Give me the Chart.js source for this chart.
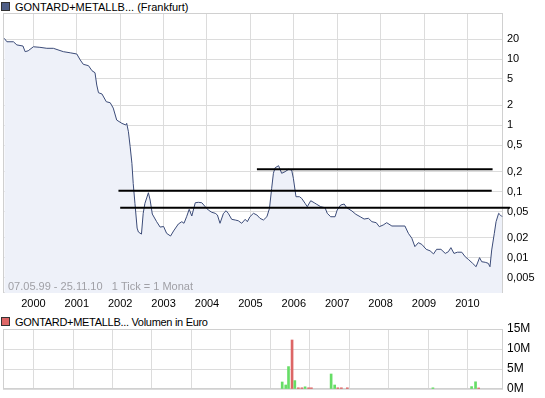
<!DOCTYPE html>
<html>
<head>
<meta charset="utf-8">
<script src="https://cdn.jsdelivr.net/npm/chart.js@4/dist/chart.umd.min.js"></script>
<style>
  body { margin: 0; background: #fff; font-family: "Liberation Sans", Arial, sans-serif; }
  #wrap { position: relative; width: 545px; height: 398px; overflow: hidden; }
  .box { position: absolute; width: 7px; height: 7px; border: 1px solid #333; }
  .label { position: absolute; left: 15px; font-size: 11px; line-height: 12px; color: #000; white-space: nowrap; }
  canvas { position: absolute; left: 0; }
</style>
</head>
<body>
<div id="wrap">
  <div class="box" style="left:1px;top:2px;background:#4f5f87;"></div>
  <div class="label" style="top:1px;">GONTARD+METALLB... (Frankfurt)</div>
  <canvas id="priceChart" width="545" height="312" style="top:0;"></canvas>
  <div class="box" style="left:1px;top:317px;background:#dd6666;"></div>
  <div class="label" style="top:316px;letter-spacing:-0.3px;">GONTARD+METALLB... Volumen in Euro</div>
  <canvas id="volumeChart" width="545" height="86" style="top:312px;"></canvas>
</div>
<script>
// PRICE DATA (decimal year, price in EUR, log scale)
const priceDates = [
  1999.33, 1999.39, 1999.54, 1999.62, 1999.76, 1999.81, 1999.88, 2000.00, 2000.15, 2000.31,
  2000.46, 2000.69, 2000.85, 2001.00, 2001.08, 2001.15, 2001.27, 2001.35, 2001.42, 2001.46,
  2001.50, 2001.58, 2001.68, 2001.77, 2001.84, 2001.92, 2002.04, 2002.13, 2002.15, 2002.19,
  2002.23, 2002.27, 2002.30, 2002.34, 2002.39, 2002.42, 2002.49, 2002.53, 2002.57, 2002.65,
  2002.69, 2002.74, 2002.84, 2002.92, 2003.00, 2003.07, 2003.16, 2003.23, 2003.34, 2003.42,
  2003.47, 2003.53, 2003.59, 2003.65, 2003.73, 2003.80, 2003.88, 2003.96, 2004.03, 2004.11,
  2004.19, 2004.24, 2004.30, 2004.38, 2004.44, 2004.49, 2004.57, 2004.65, 2004.72, 2004.80,
  2004.88, 2004.93, 2004.99, 2005.07, 2005.15, 2005.22, 2005.30, 2005.38, 2005.44, 2005.49,
  2005.53, 2005.57, 2005.65, 2005.72, 2005.80, 2005.88, 2005.95, 2005.99, 2006.05, 2006.13,
  2006.18, 2006.26, 2006.31, 2006.39, 2006.47, 2006.53, 2006.62, 2006.72, 2006.77, 2006.85,
  2006.95, 2007.00, 2007.08, 2007.16, 2007.22, 2007.34, 2007.43, 2007.53, 2007.62, 2007.72,
  2007.80, 2007.90, 2007.97, 2008.06, 2008.14, 2008.26, 2008.56, 2008.64, 2008.72, 2008.79,
  2008.87, 2008.95, 2009.05, 2009.14, 2009.22, 2009.29, 2009.39, 2009.49, 2009.56, 2009.62,
  2009.69, 2009.77, 2009.87, 2009.95, 2010.02, 2010.12, 2010.20, 2010.28, 2010.33, 2010.41,
  2010.48, 2010.52, 2010.56, 2010.62, 2010.66, 2010.72, 2010.76, 2010.80
];
const prices = [
  20.5, 18.2, 18.2, 16.3, 15.7, 12.9, 13.3, 15.3, 15.0, 14.5,
  14.5, 12.9, 12.4, 11.9, 9.66, 8.32, 7.93, 6.66, 6.21, 4.05,
  3.10, 2.97, 2.27, 2.19, 1.82, 1.20, 1.07, 1.01, 1.07, 0.80,
  0.475, 0.267, 0.133, 0.0666, 0.0282, 0.0246, 0.0229, 0.0471, 0.0666, 0.0962,
  0.0747, 0.0459, 0.0352, 0.0292, 0.0298, 0.0235, 0.0214, 0.0255, 0.0325, 0.0352,
  0.0333, 0.0418, 0.0541, 0.0429, 0.0680, 0.0690, 0.0680, 0.0592, 0.0528, 0.0488,
  0.0471, 0.0444, 0.0333, 0.0471, 0.0515, 0.0471, 0.0382, 0.0373, 0.0364, 0.0333,
  0.0382, 0.0352, 0.0418, 0.0471, 0.0444, 0.0396, 0.0373, 0.0418, 0.0560, 0.112,
  0.189, 0.229, 0.246, 0.189, 0.200, 0.217, 0.212, 0.159, 0.0838, 0.0838,
  0.0793, 0.0666, 0.0592, 0.0729, 0.0680, 0.0643, 0.0592, 0.0572, 0.0471, 0.0418,
  0.0418, 0.0528, 0.0628, 0.0650, 0.0572, 0.0510, 0.0455, 0.0418, 0.0386, 0.0396,
  0.0352, 0.0340, 0.0296, 0.0314, 0.0340, 0.0303, 0.0303, 0.0235, 0.0198, 0.0148,
  0.0170, 0.0160, 0.0135, 0.0128, 0.0115, 0.0135, 0.0135, 0.0117, 0.0124, 0.0143,
  0.0117, 0.0122, 0.0122, 0.0104, 0.00953, 0.0083, 0.00737, 0.0101, 0.00877, 0.0086,
  0.0083, 0.00737, 0.0132, 0.0235, 0.0352, 0.0471, 0.0444, 0.0418
];

// HAND-DRAWN TREND LINES
const trendStart = [2005.15, 2001.96, 2002.00];
const trendEnd = [2010.58, 2010.56, 2010.98];
const trendLevel = [0.217, 0.1032, 0.0572];

// VOLUME DATA (EUR), 1 = price up (green), 0 = down (red)
const volumeDates = [2005.80, 2005.89, 2005.96, 2006.05, 2006.12, 2006.21, 2006.30, 2006.38, 2006.47, 2006.54,
  2007.04, 2007.13, 2007.21, 2007.30, 2007.45, 2009.62, 2010.60, 2010.70, 2010.78];
const volumes = [1750000, 1000000, 5600000, 12250000, 2100000, 300000, 300000, 550000, 300000, 300000,
  3750000, 1000000, 300000, 300000, 300000, 300000, 600000, 1800000, 250000];
const volumeUp = [1, 1, 1, 0, 1, 0, 0, 1, 0, 0, 1, 1, 0, 0, 0, 1, 1, 1, 0];

// AXES
const yearTicks = [2000, 2001, 2002, 2003, 2004, 2005, 2006, 2007, 2008, 2009, 2010];
const priceTicks = [0.005, 0.01, 0.02, 0.05, 0.1, 0.2, 0.5, 1, 2, 5, 10, 20];
const volumeTicks = [0, 5000000, 10000000, 15000000];
const periodNote = "07.05.99 - 25.11.10   1 Tick = 1 Monat";

Chart.defaults.font.family = "'Liberation Sans', Arial, sans-serif";
Chart.defaults.font.size = 11;
Chart.defaults.color = "#000";

const GRID = "#dcdcdc";

// draws a thin frame round the plot area
const frame = {
  id: "frame",
  beforeDatasetsDraw(chart) {
    const a = chart.chartArea;
    const ctx = chart.ctx;
    ctx.save();
    ctx.strokeStyle = "#d0d0d0";
    ctx.lineWidth = 1;
    ctx.strokeRect(a.left + 0.5, a.top + 0.5, a.right - a.left - 1, a.bottom - a.top - 1);
    ctx.restore();
  }
};

// grey period text in the lower left corner
const note = {
  id: "note",
  afterDatasetsDraw(chart) {
    const ctx = chart.ctx;
    ctx.save();
    ctx.font = "11px 'Liberation Sans', Arial, sans-serif";
    ctx.fillStyle = "#a0a0a6";
    ctx.textBaseline = "middle";
    ctx.fillText(periodNote, 8, chart.chartArea.bottom - 6);
    ctx.restore();
  }
};

function xScale(showLabels) {
  return {
    type: "linear",
    min: 1999.30,
    max: 2010.82,
    afterBuildTicks: s => { s.ticks = yearTicks.map(v => ({ value: v })); },
    afterFit: s => { s.height = showLabels ? 19 : 0; s.paddingLeft = 0; s.paddingRight = 0; },
    grid: { color: GRID, drawTicks: false },
    border: { display: false },
    ticks: { display: showLabels, padding: 4, maxRotation: 0, autoSkip: false, callback: v => String(v) }
  };
}

function fixY(s) {
  s.width = 42;
  s.paddingTop = 0;
  s.paddingBottom = 0;
}

const trendSets = trendLevel.map((lvl, i) => ({
  type: "line",
  data: [{ x: trendStart[i], y: lvl }, { x: trendEnd[i], y: lvl }],
  borderColor: "#000",
  borderWidth: 2,
  pointRadius: 0,
  fill: false,
  clip: false
}));

new Chart(document.getElementById("priceChart"), {
  type: "line",
  data: {
    datasets: [
      ...trendSets,
      {
        data: priceDates.map((d, i) => ({ x: d, y: prices[i] })),
        borderColor: "#3b4b78",
        borderWidth: 1,
        backgroundColor: "#eef1f9",
        fill: "start",
        pointRadius: 0,
        tension: 0
      }
    ]
  },
  options: {
    responsive: false,
    devicePixelRatio: 1,
    animation: false,
    layout: { padding: { left: 3, top: 13, right: 0, bottom: 0 } },
    plugins: { legend: { display: false }, tooltip: { enabled: false } },
    scales: {
      x: xScale(true),
      y: {
        type: "logarithmic",
        position: "right",
        min: 0.00296,
        max: 49.4,
        afterBuildTicks: s => { s.ticks = priceTicks.map(v => ({ value: v })); },
        afterFit: fixY,
        grid: { color: GRID, drawTicks: false },
        border: { display: false },
        ticks: { padding: 4, autoSkip: false, callback: v => String(v).replace(".", ",") }
      }
    }
  },
  plugins: [frame, note]
});

new Chart(document.getElementById("volumeChart"), {
  type: "bar",
  data: {
    datasets: [{
      data: volumeDates.map((d, i) => ({ x: d, y: volumes[i] })),
      backgroundColor: volumeUp.map(u => u ? "#66dd66" : "#dd6666"),
      barThickness: 2
    }]
  },
  options: {
    responsive: false,
    devicePixelRatio: 1,
    animation: false,
    layout: { padding: { left: 3, top: 17, right: 0, bottom: 9 } },
    plugins: { legend: { display: false }, tooltip: { enabled: false } },
    scales: {
      x: xScale(false),
      y: {
        position: "right",
        min: 0,
        max: 15000000,
        afterBuildTicks: s => { s.ticks = volumeTicks.map(v => ({ value: v })); },
        afterFit: fixY,
        grid: { color: GRID, drawTicks: false },
        border: { display: false },
        ticks: { padding: 4, autoSkip: false, font: { size: 12 }, callback: v => (v / 1000000) + "M" }
      }
    }
  },
  plugins: [frame]
});
</script>
</body>
</html>
